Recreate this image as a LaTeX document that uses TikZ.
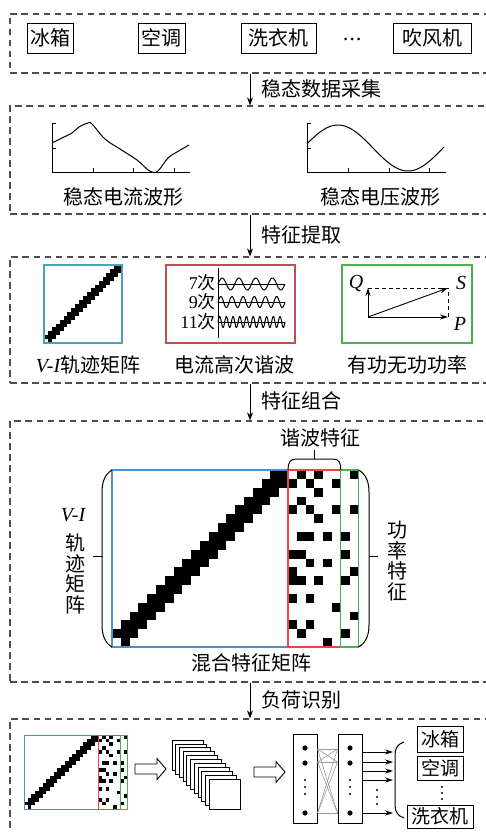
\documentclass[tikz,border=0pt]{standalone}
\usepackage{fontspec}
\setmainfont{Liberation Serif}
\newfontfamily\cjk{Noto Sans CJK SC}
\usetikzlibrary{arrows.meta}
\definecolor{dashgray}{HTML}{4D4D4D}
\definecolor{vicyan}{HTML}{4BA3B8}
\definecolor{hred}{HTML}{C0504D}
\definecolor{pgreen}{HTML}{4DAF55}
\definecolor{mblue}{HTML}{4A8FD0}
\definecolor{mred}{HTML}{EE4444}
\definecolor{mgreen}{HTML}{4DB050}
\definecolor{nngray}{HTML}{9A9A9A}
\newcommand\zhL{\cjk\fontsize{20}{24}\selectfont}
\newcommand\zhM{\cjk\fontsize{19}{22}\selectfont}
\newcommand\vidiag{%
  \fill (18,0) rectangle (20,1);
  \foreach \rr in {1,...,18} {\fill ({18-\rr},\rr) rectangle ({21-\rr},{\rr+1});}
  \fill (1,19) rectangle (2,20);
}
\newcommand\featcells{%
  \foreach \cc/\rr in {1/0,3/0,7/0, 0/1,2/1,5/1, 3/2, 1/3, 0/4,2/4,5/4,7/4, 3/5,
    1/7,2/7,4/7,6/7, 0/9,1/9,6/9, 2/10,4/10, 0/11,7/11, 0/12,1/12,3/12,6/12,
    0/14,2/14, 5/15, 7/16, 0/17,2/17, 1/18,6/18, 4/19}
    {\fill ({20+\cc},\rr) rectangle ++(1,1);}
}
\begin{document}
\begin{tikzpicture}[x=1pt,y=-1pt,
  section/.style={draw=dashgray, line width=1.3pt, dash pattern=on 6.5pt off 4.5pt, inner sep=0},
  appbox/.style={draw, line width=0.9pt, inner sep=0, minimum height=30, font=\zhL},
  outbox/.style={draw, line width=0.9pt, inner sep=0, font=\zhM},
  lbl/.style={inner sep=0, font=\zhL},
  flow/.style={-{Stealth[length=8pt,width=6pt]}, line width=0.8pt},
  vec/.style={-{Stealth[length=8pt,width=5pt]}, line width=0.9pt},
  wave/.style={line width=1pt},
  axisline/.style={line width=0.8pt},
  hollowarr/.pic={\draw[line width=0.9pt, fill=white] (0,-5) -- (22,-5) -- (22,-10.5) -- (31,0) -- (22,10.5) -- (22,5) -- (0,5) -- cycle;},
]
\useasboundingbox (0,0) rectangle (485,832);

% ---------- sections ----------
\node[section, minimum width=480, minimum height=59]  (s1) at (250,43.5) {};
\node[section, minimum width=480, minimum height=108] (s2) at (250,160) {};
\node[section, minimum width=480, minimum height=126] (s3) at (250,320) {};
\node[section, minimum width=480, minimum height=261] (s4) at (250,551.5) {};
\node[section, minimum width=480, minimum height=126] (s5) at (250,782) {};

\draw[flow] (s1.south) -- (s2.north);
\draw[flow] (s2.south) -- (s3.north);
\draw[flow] (s3.south) -- (s4.north);
\draw[flow] (s4.south) -- (s5.north);
\node[lbl, anchor=west] (t1) at (261,88.5) {稳态数据采集};
\node[lbl, anchor=west] (t2) at (261,235) {特征提取};
\node[lbl, anchor=west] (t3) at (261,401) {特征组合};
\node[lbl, anchor=west] (t4) at (261,700) {负荷识别};

% ---------- section 1 ----------
\node[appbox, minimum width=46] (a1) at (50,38) {冰箱};
\node[appbox, minimum width=47] (a2) at (161.5,38) {空调};
\node[appbox, minimum width=75] (a3) at (278.5,38) {洗衣机};
\foreach \xx in {345.5,352,358.5} {\fill (\xx,39) circle (1.5);}
\node[appbox, minimum width=78] (a5) at (432,38) {吹风机};

% ---------- section 2 ----------
\draw[axisline] (52,123) -- (52,172) -- (190,172);
\draw[axisline] (52,123) -- (56,123) (52,148) -- (56,148);
\foreach \tx in {93,133,174} {\draw[axisline] (\tx,172) -- (\tx,168);}
\draw[wave] plot[smooth, tension=0.6] coordinates {(52,143) (62,138) (72,133) (79,127) (88,123) (92,124) (105,139) (120,149) (137,160) (147,169) (152,172) (158,171) (168,158) (177,152) (189,145)};
\node[lbl] (c1) at (123,197) {稳态电流波形};

\draw[axisline] (307,123) -- (307,172) -- (446,172);
\draw[axisline] (307,123) -- (311,123) (307,148) -- (311,148);
\foreach \tx in {348,389,429} {\draw[axisline] (\tx,172) -- (\tx,168);}
\draw[wave] plot[domain=307:444, samples=80, smooth] (\x,{148-23*sin((\x-338)*2.5714+90)});
\node[lbl] (c2) at (380,197) {稳态电压波形};

% ---------- section 3 ----------
\begin{scope}[shift={(44,265)}, x=3.9pt, y=-3.9pt]
  \vidiag
\end{scope}
\node[draw=vicyan, line width=2pt, minimum size=78, inner sep=0] (vibox) at (83,304) {};
\node[lbl] (vil) at (88,365) {{\rmfamily\itshape V-I}轨迹矩阵};

\node[draw=hred, line width=2pt, minimum width=129, minimum height=78, inner sep=0] (hbox) at (230.5,304) {};
\node[anchor=east, inner sep=0, font=\fontsize{18}{20}\selectfont] (h7) at (216,283) {7{\cjk 次}};
\node[anchor=east, inner sep=0, font=\fontsize{18}{20}\selectfont] (h9) at (216,302) {9{\cjk 次}};
\node[anchor=east, inner sep=0, font=\fontsize{18}{20}\selectfont] (h11) at (216,322) {11{\cjk 次}};
\draw[line width=0.9pt] (218,268) -- (218,338);
\draw[line width=0.7pt] (218,284) -- (285,284) (218,302) -- (285,302) (218,322) -- (285,322);
\draw[wave] plot[domain=218:285, samples=120] (\x,{284-6*sin((\x-218)*21.4925)});
\draw[wave] plot[domain=218:285, samples=140] (\x,{302-5.5*sin((\x-218)*32.229)});
\draw[wave] plot[domain=218:285, samples=200] (\x,{322-5.5*sin((\x-218)*53.731)});
\node[lbl] (hl) at (234,365) {电流高次谐波};

\node[draw=pgreen, line width=1.5pt, minimum width=130, minimum height=78, inner sep=0] (pbox) at (407,304) {};
\coordinate (O) at (368,317);
\coordinate (Qe) at (368,288);
\coordinate (Pe) at (448,317);
\coordinate (Se) at (448,288);
\draw[line width=0.9pt, dash pattern=on 4pt off 3pt] (Qe) -- (Se) -- (Pe);
\draw[vec] (O) -- (Qe);
\draw[vec] (O) -- (Pe);
\draw[vec] (O) -- (Se);
\node[inner sep=0, font=\fontsize{20}{24}\selectfont\itshape] (ql) at (356,283) {Q};
\node[inner sep=0, font=\fontsize{20}{24}\selectfont\itshape] (sl) at (461,283) {S};
\node[inner sep=0, font=\fontsize{20}{24}\selectfont\itshape] (pl) at (460,324) {P};
\node[lbl] (pwl) at (407,365) {有功无功功率};

% ---------- section 4 ----------
\begin{scope}[shift={(112,470)}, x=8.8pt, y=-8.85pt]
  \vidiag
  \featcells
  \draw[mblue, line width=1.3pt] (0,0) rectangle (20,20);
  \draw[mred, line width=1.3pt] (20,0) rectangle (26,20);
  \draw[mgreen, line width=1.3pt] (26,0) rectangle (28,20);
  \coordinate (bigtl) at (0,0);
  \coordinate (bigbl) at (0,20);
  \coordinate (bigtr) at (28,0);
  \coordinate (bigbr) at (28,20);
  \coordinate (redtl) at (20,0);
  \coordinate (redtr) at (26,0);
\end{scope}
\draw[line width=1pt] (bigtl) .. controls (105,474) and (102,482) .. (102,492) -- (102,625) .. controls (102,635) and (105,643) .. (bigbl);
\draw[line width=1pt] (102,556) -- (93,556);
\draw[line width=1pt] (bigtr) .. controls (366,474) and (369,482) .. (369,492) -- (369,625) .. controls (369,635) and (366,643) .. (bigbr);
\draw[line width=1pt] (369,556) -- (378,556);
\draw[line width=1pt] (redtl) .. controls (288,463) and (290,459) .. (296,459) -- (333,459) .. controls (339,459) and (341,463) .. (redtr);
\draw[line width=1pt] (314,459) -- (314,450);
\node[lbl] (hfl) at (320,438) {谐波特征};
\node[inner sep=0, font=\fontsize{20}{24}\selectfont\itshape] (vil2) at (73,515) {V-I};
\node[inner sep=0, align=center, font={\cjk\fontsize{20}{20.7}\selectfont}] (vil3) at (75,574) {轨\\迹\\矩\\阵};
\node[inner sep=0, align=center, font={\cjk\fontsize{20}{20.7}\selectfont}] (pfl) at (397,561) {功\\率\\特\\征};
\node[lbl] (mixl) at (251,663) {混合特征矩阵};

% ---------- section 5 ----------
\begin{scope}[shift={(24,735)}, x=3.714pt, y=-3.7pt]
  \vidiag
  \featcells
  \draw[mblue, line width=1pt] (0,0) rectangle (20,20);
  \draw[mred, line width=1pt] (20,0) rectangle (26,20);
  \draw[mgreen, line width=1pt] (26,0) rectangle (28,20);
\end{scope}
\pic (ha1) at (135,769) {hollowarr};
\foreach \i in {0,...,10} {\draw[line width=0.8pt, fill=white] ({172+3.7*\i},{740+3.9*\i}) rectangle ++(31,30);}
\pic (ha2) at (254,772) {hollowarr};

\node[draw, line width=1pt, minimum width=24, minimum height=89, inner sep=0] (nn1) at (305,778.5) {};
\node[draw, line width=1pt, minimum width=24, minimum height=89, inner sep=0] (nn2) at (350,778.5) {};
\foreach \yy in {749,762,813} {
  \foreach \zz in {749,762,813} {\draw[nngray, line width=0.6pt] (nn1.east |- 0,\yy) -- (nn2.west |- 0,\zz);}
}
\foreach \xx in {305,350} {
  \foreach \yy in {748,763,813} {\fill (\xx,\yy) circle (2.6);}
  \foreach \yy in {780,787,794} {\fill (\xx,\yy) circle (1.2);}
}
\coordinate (brt) at (404,742);
\coordinate (brb) at (404,818);
\draw[line width=1pt] (brt) .. controls (398,744) and (395,748) .. (395,755) -- (395,805) .. controls (395,812) and (398,816) .. (brb);
\foreach \yy in {752,762,771,780,813} {\draw[vec, line width=0.8pt] (nn2.east |- 0,\yy) -- (393,\yy);}
\foreach \yy in {790,797,804} {\fill (377,\yy) circle (1.2);}
\node[outbox, minimum width=46, minimum height=26] (o1) at (440,739) {冰箱};
\node[outbox, minimum width=46, minimum height=24] (o2) at (440,768) {空调};
\foreach \yy in {787,793,799} {\fill (442,\yy) circle (1.2);}
\node[outbox, minimum width=66, minimum height=23] (o3) at (440,816.5) {洗衣机};
\end{tikzpicture}
\end{document}
